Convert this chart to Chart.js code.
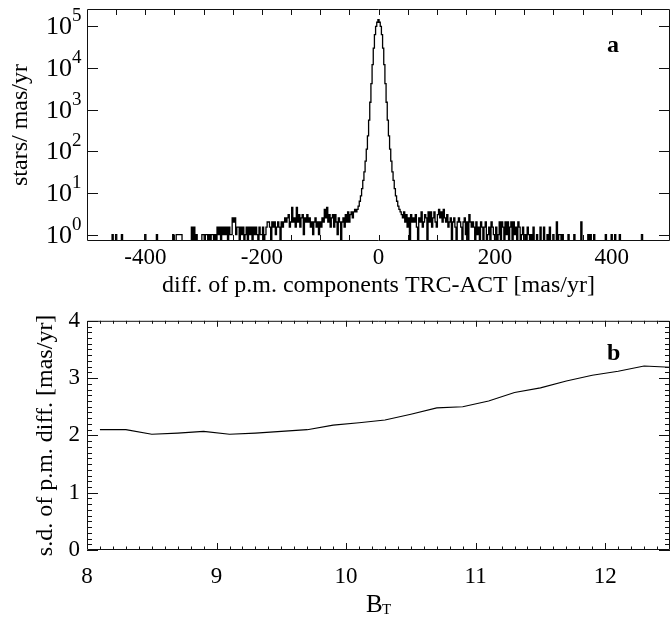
<!DOCTYPE html>
<html>
<head>
<meta charset="utf-8">
<script src="https://cdn.jsdelivr.net/npm/chart.js@4.4.0/dist/chart.umd.min.js"></script>
<style>
  html, body { margin: 0; padding: 0; background: #fff; }
  #wrap { position: relative; width: 670px; height: 618px; }
  canvas { position: absolute; left: 0; }
</style>
</head>
<body>
<div id="wrap">
  <canvas id="chart-hist" width="670" height="300" style="top:0px"></canvas>
  <canvas id="chart-sd" width="670" height="318" style="top:300px"></canvas>
</div>
<script>
// panel a: histogram of p.m. differences, bins of 2 mas/yr starting at -500
const binStart = -500;
const binWidth = 2;
const starsPerMasYr = [
  0,0,0,0,0,0,0,0,0,0,
  0,0,0,0,0,0,0,0,0,0,
  0,0,1,0,0,1,0,0,0,0,
  1,0,0,0,0,0,0,0,0,0,
  0,0,0,0,0,0,0,0,0,0,
  1,0,0,0,0,0,0,0,0,0,
  1,0,0,0,0,0,0,0,0,0,
  0,0,0,0,1,0,0,1,1,1,
  1,1,0,0,0,0,0,0,0,0,
  1.5,0,1.5,0,1,0,0,0,0,1,
  1,0,1,1,0,1,0,1,1,0,
  1,0,1.5,1,1.5,0,1.5,1,1.5,1,
  1.5,0,1.5,1,1,2.5,2,2.5,1,1.5,
  1.5,0,1.5,1,1.5,0,1,1.5,0,1.5,
  1,1.5,0,1.5,1,1.5,1,0,1.5,1,
  1,1.5,0,1,1.5,2,2,1.5,0,2,
  1.5,2,1,1.5,2,1.5,0,2,1.5,2,
  2.5,2,2.5,3,1.5,2,4.5,2,2.5,1.5,
  4.5,2,3,1.5,2.5,3,1,2.5,2,3,
  2,2.5,1.5,2,1,2,2.5,1.5,2,1,
  2,1.5,2.5,2,4,2.5,4.5,2,3,1.5,
  2.5,3,1.5,3,2,1,2.5,2,0,2,
  2.5,1.5,3,2,3.5,2,3,3.5,2.5,3.5,
  4,3.5,4,4.8,6.3,8.5,12.6,20,32,58,
  112,235,560,1500,4200,12000,30000,63000,100000,125000,
  145000,
  125000,100000,63000,30000,12000,4200,1500,560,235,112,
  58,32,20,12.6,8.5,6.3,4.8,4,3.5,3,
  2.5,3.5,2,3,1.5,2.5,0,3,2,2.5,
  2,3,1.5,0,2.5,2,3.5,1.5,2,3,
  2.5,0,3.5,2,3.5,1.5,2.5,3.5,2,1.5,
  3,4,2.5,3.5,2,4,2.5,2,3,1.5,
  2,2.5,0,2,2.5,1.5,0,2,2.5,2,
  1.5,0,2,2.5,1,2,0,3,2,1.5,
  2,1.5,0,2,1,1.5,0,2,1.5,0,
  1.5,2,0,1,1.5,0,2,1.5,1,0,
  1.5,0,1,2,0,2,1.5,0,2,1,
  2,0,1.5,2,0,2,1,1.5,0,2,
  1.5,0,1,1.5,0,1,0,1.5,1,0,
  1,0,1.5,0,0,1,0,0,1.5,0,
  0,1.5,0,0,1,0,1.5,0,0,1,
  0,0,2,0,1,1,0,1,0,0,
  0,0,1,0,0,0,0,1,0,0,
  0,0,0,2,0,0,0,0,0,1,
  0,1,0,0,1,0,0,0,0,0,
  0,0,0,0,1,0,0,0,0,1,
  0,0,1,0,0,0,1,0,0,0,
  0,0,0,0,0,0,0,0,0,0,
  0,0,0,0,0,1,0,0,0,0,
  0,0,0,0,0,0,0,0,0,0,
  0,0,0,0,0,0,0,0,0,0
];
const histTicksX = [-400, -200, 0, 200, 400];
const histExponents = [0, 1, 2, 3, 4, 5];

// panel b: s.d. of p.m. differences vs B_T
const magBT = [8.1, 8.3, 8.5, 8.7, 8.9, 9.1, 9.3, 9.5, 9.7, 9.9, 10.1, 10.3,
  10.5, 10.7, 10.9, 11.1, 11.3, 11.5, 11.7, 11.9, 12.1, 12.3, 12.5];
const sdDiff = [2.10, 2.10, 2.02, 2.04, 2.07, 2.02, 2.04, 2.07, 2.10, 2.18, 2.22, 2.27,
  2.37, 2.48, 2.50, 2.60, 2.75, 2.83, 2.95, 3.05, 3.12, 3.21, 3.19];
const sdTicksX = [8, 9, 10, 11, 12];
const sdTicksY = [0, 1, 2, 3, 4];

const serif = "'Liberation Serif', 'Times New Roman', serif";
const ink = '#000';
const logFloor = 0.1; // empty bins: drawn below the axis (log scale can't show 0)

// inward IDL-style tick marks + box
function frameTicks(xt, yt) {
  return {
    id: 'frameTicks',
    afterDraw(chart) {
      const { ctx, chartArea: a, scales } = chart;
      ctx.save();
      ctx.strokeStyle = '#111';
      ctx.lineWidth = 1;
      ctx.beginPath();
      ctx.rect(a.left + 0.5, a.top + 0.5, a.right - a.left - 1, a.bottom - a.top - 1);
      xt.forEach(([v, len, lenTop]) => {
        const px = Math.round(scales.x.getPixelForValue(v)) + 0.5;
        ctx.moveTo(px, a.bottom); ctx.lineTo(px, a.bottom - len);
        ctx.moveTo(px, a.top); ctx.lineTo(px, a.top + lenTop);
      });
      yt.forEach(([v, len]) => {
        const py = Math.round(scales.y.getPixelForValue(v)) + 0.5;
        ctx.moveTo(a.left, py); ctx.lineTo(a.left + len, py);
        ctx.moveTo(a.right, py); ctx.lineTo(a.right - len, py);
      });
      ctx.stroke();
      ctx.restore();
    }
  };
}

// tick mark lists
const histXMarks = [];
for (let v = -450; v <= 450; v += 50) histXMarks.push([v, 6, 6]);
const histYMarks = histExponents.map(e => [Math.pow(10, e), 11]);
const sdXMarks = [];
for (let i = 81; i <= 124; i++) {
  const major = i % 10 === 0;
  sdXMarks.push([i / 10, major ? 7 : 3.5, major ? 6 : 3]);
}
const sdYMarks = [];
for (let i = 1; i <= 40; i++) sdYMarks.push([i / 10, i % 10 === 0 ? 11 : 5]);
sdYMarks.push([0, 11]);

const histLabels = {
  id: 'histLabels',
  afterDraw(chart) {
    const { ctx, scales } = chart;
    ctx.save();
    ctx.fillStyle = ink;
    ctx.textBaseline = 'alphabetic';
    histExponents.forEach(e => {
      const py = scales.y.getPixelForValue(Math.pow(10, e));
      ctx.font = '26px ' + serif;
      ctx.textAlign = 'right';
      ctx.fillText('10', 72, py + 8);
      ctx.font = '19px ' + serif;
      ctx.textAlign = 'left';
      ctx.fillText(String(e), 72, py - 5);
    });
    ctx.font = 'bold 24px ' + serif;
    ctx.textAlign = 'left';
    ctx.fillText('a', 607, 52);
    ctx.restore();
  }
};

const sdLabels = {
  id: 'sdLabels',
  afterDraw(chart) {
    const { ctx } = chart;
    ctx.save();
    ctx.fillStyle = ink;
    ctx.textBaseline = 'alphabetic';
    ctx.font = 'bold 24px ' + serif;
    ctx.textAlign = 'left';
    ctx.fillText('b', 607, 60);
    ctx.font = '25px ' + serif;
    ctx.fillText('B', 366, 312);
    ctx.font = '15px ' + serif;
    ctx.fillText('T', 382, 314);
    ctx.restore();
  }
};

const histPoints = starsPerMasYr.map((v, i) => ({ x: binStart + i * binWidth, y: v > 0 ? v : logFloor }));

new Chart(document.getElementById('chart-hist'), {
  type: 'line',
  data: {
    datasets: [{
      data: histPoints,
      borderColor: ink,
      borderWidth: 1.3,
      pointRadius: 0,
      stepped: 'middle',
      fill: false
    }]
  },
  options: {
    responsive: false,
    animation: false,
    events: [],
    layout: { padding: { top: 9, right: 0, left: 0, bottom: 0 } },
    plugins: { legend: { display: false }, tooltip: { enabled: false } },
    scales: {
      x: {
        type: 'linear', min: -500, max: 500,
        grid: { display: false, drawTicks: false },
        border: { display: false },
        ticks: { color: ink, font: { family: serif, size: 23 }, padding: 3, maxRotation: 0, autoSkip: false },
        afterBuildTicks: s => { s.ticks = histTicksX.map(v => ({ value: v })); },
        afterFit: s => { s.height = 59; },
        title: {
          display: true, text: 'diff. of p.m. components TRC-ACT [mas/yr]',
          color: ink, font: { family: serif, size: 24 }, padding: { top: 0, bottom: 0 }
        }
      },
      y: {
        type: 'logarithmic', min: 0.7, max: 2.6e5,
        grid: { display: false, drawTicks: false },
        border: { display: false },
        ticks: { display: false },
        afterFit: s => { s.width = 87; },
        title: {
          display: true, text: 'stars/ mas/yr',
          color: ink, font: { family: serif, size: 24 }, padding: { top: 6, bottom: 0 }
        }
      }
    }
  },
  plugins: [frameTicks(histXMarks, histYMarks), histLabels]
});

new Chart(document.getElementById('chart-sd'), {
  type: 'line',
  data: {
    labels: magBT,
    datasets: [{
      data: magBT.map((m, i) => ({ x: m, y: sdDiff[i] })),
      borderColor: ink,
      borderWidth: 1.1,
      pointRadius: 0,
      tension: 0,
      fill: false
    }]
  },
  options: {
    responsive: false,
    animation: false,
    events: [],
    layout: { padding: { top: 19, right: 0, left: 0, bottom: 0 } },
    plugins: { legend: { display: false }, tooltip: { enabled: false } },
    scales: {
      x: {
        type: 'linear', min: 8, max: 12.5,
        grid: { display: false, drawTicks: false },
        border: { display: false },
        ticks: { color: ink, font: { family: serif, size: 23 }, padding: 13, maxRotation: 0, autoSkip: false },
        afterBuildTicks: s => { s.ticks = sdTicksX.map(v => ({ value: v })); },
        afterFit: s => { s.height = 68; }
      },
      y: {
        type: 'linear', min: 0, max: 4,
        grid: { display: false, drawTicks: false },
        border: { display: false },
        ticks: { color: ink, font: { family: serif, size: 23 }, padding: 7 },
        afterBuildTicks: s => { s.ticks = sdTicksY.map(v => ({ value: v })); },
        afterFit: s => { s.width = 87; },
        title: {
          display: true, text: 's.d. of p.m. diff. [mas/yr]',
          color: ink, font: { family: serif, size: 24 }, padding: { top: 31, bottom: 0 }
        }
      }
    }
  },
  plugins: [frameTicks(sdXMarks, sdYMarks), sdLabels]
});
</script>
</body>
</html>
